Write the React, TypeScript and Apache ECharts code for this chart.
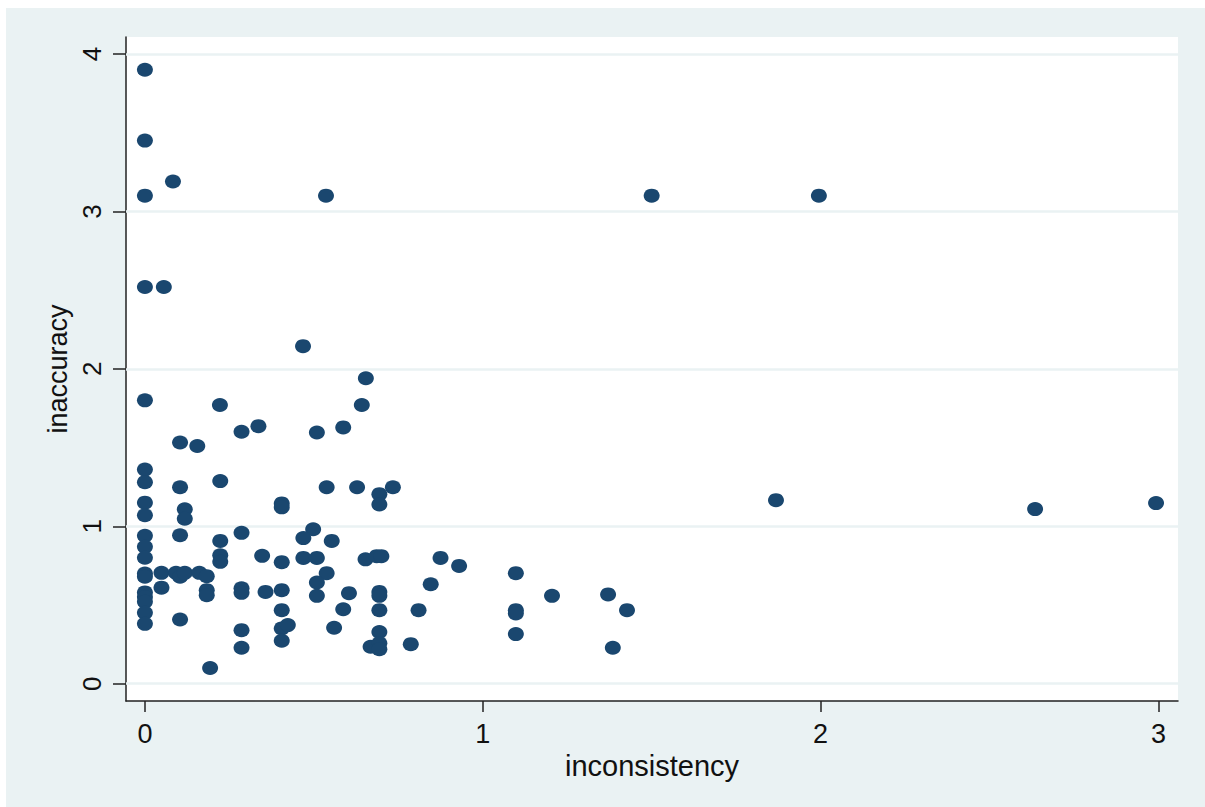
import React, { useEffect, useRef } from "react";
import * as echarts from "echarts";

// inconsistency (x) and inaccuracy (y) values
const inconsistency: number[] = [
  0, 0, 0, 0, 0, 0, 0, 0, 0, 0, 0, 0, 0, 0, 0, 0, 0, 0, 0,
  0.083, 0.056, 0.536, 1.5, 1.995, 0.468, 0.654, 0.222, 0.642, 0.104,
  0.155, 0.286, 0.336, 0.509, 0.587, 0.104, 0.223, 0.538, 0.628, 0.734,
  0.694, 0.694, 0.118, 0.118, 0.405, 0.405, 1.868, 2.635, 2.993, 0.498,
  0.469, 0.553, 0.286, 0.104, 0.223, 0.223, 0.223, 0.347, 0.405, 0.469,
  0.509, 0.653, 0.686, 0.7, 0.875, 0.93, 1.098, 0.049, 0.092, 0.104,
  0.118, 0.161, 0.183, 0.538, 0.509, 0.846, 0.049, 0.183, 0.183, 0.286,
  0.286, 0.357, 0.405, 0.604, 0.694, 0.694, 1.205, 1.371, 0.509, 0.587,
  0.405, 0.694, 0.81, 1.098, 1.098, 1.427, 0.104, 0.405, 0.423, 0.56,
  0.286, 0.694, 1.098, 0.405, 0.286, 0.668, 0.694, 0.694, 0.787, 1.385,
  0.193,
];
const inaccuracy: number[] = [
  3.9, 3.45, 3.1, 2.52, 1.8, 1.36, 1.28, 1.15, 1.07, 0.94, 0.87, 0.8, 0.7, 0.68, 0.58, 0.55, 0.52, 0.45, 0.38,
  3.19, 2.52, 3.1, 3.1, 3.1, 2.144, 1.94, 1.77, 1.77, 1.532,
  1.51, 1.6, 1.636, 1.596, 1.628, 1.248, 1.287, 1.248, 1.248, 1.248,
  1.204, 1.139, 1.108, 1.048, 1.145, 1.12, 1.166, 1.109, 1.147, 0.981,
  0.925, 0.907, 0.958, 0.943, 0.907, 0.816, 0.774, 0.812, 0.772, 0.799,
  0.799, 0.79, 0.81, 0.81, 0.799, 0.748, 0.702, 0.704, 0.704, 0.679,
  0.704, 0.704, 0.683, 0.702, 0.643, 0.632, 0.61, 0.594, 0.562, 0.606,
  0.577, 0.583, 0.594, 0.575, 0.583, 0.558, 0.558, 0.567, 0.558, 0.473,
  0.467, 0.467, 0.467, 0.467, 0.446, 0.467, 0.408, 0.351, 0.372, 0.355,
  0.34, 0.328, 0.315, 0.273, 0.228, 0.235, 0.257, 0.219, 0.251, 0.228,
  0.1,
];
const xTicks: number[] = [0, 1, 2, 3];
const yTicks: number[] = [0, 1, 2, 3, 4];
const xName = "inconsistency";
const yName = "inaccuracy";

export default function App() {
  const ref = useRef<HTMLDivElement>(null);
  useEffect(() => {
    if (!ref.current) return;
    const chart = echarts.init(ref.current, undefined, { renderer: "svg" });
    const pts = inconsistency.map((x, i) => [x, inaccuracy[i]]);
    const font = "'Liberation Sans', Arial, sans-serif";
    chart.setOption({
      animation: false,
      backgroundColor: "#ffffff",
      graphic: [
        {
          type: "rect",
          z: -10,
          silent: true,
          shape: { x: 6, y: 8, width: 1199, height: 799 },
          style: { fill: "#EAF2F3" },
        },
        {
          type: "rect",
          z: -9,
          silent: true,
          shape: { x: 126, y: 37, width: 1052, height: 664 },
          style: { fill: "#ffffff" },
        },
      ],
      grid: { left: 126, top: 37, right: 27, bottom: 106, containLabel: false },
      xAxis: {
        type: "value",
        min: -0.056,
        max: 3.058,
        name: xName,
        nameLocation: "middle",
        nameGap: 46,
        nameTextStyle: { fontSize: 29, color: "#111", fontFamily: font },
        axisLine: { show: true, onZero: false, lineStyle: { color: "#222", width: 1.5 } },
        axisTick: { show: true, length: 11, customValues: xTicks, lineStyle: { color: "#222", width: 1.5 } },
        axisLabel: { customValues: xTicks, fontSize: 27, margin: 19, color: "#111", fontFamily: font },
        splitLine: { show: false },
      },
      yAxis: {
        type: "value",
        min: -0.11,
        max: 4.108,
        name: yName,
        nameLocation: "middle",
        nameGap: 50,
        nameRotate: 90,
        nameTextStyle: { fontSize: 27, color: "#111", fontFamily: font },
        axisLine: { show: true, onZero: false, lineStyle: { color: "#222", width: 1.5 } },
        axisTick: { show: true, length: 13, customValues: yTicks, lineStyle: { color: "#222", width: 1.5 } },
        axisLabel: { customValues: yTicks, rotate: 90, fontSize: 26, margin: 21, color: "#111", fontFamily: font },
        splitLine: { show: false },
      },
      series: [
        {
          type: "line",
          data: [],
          z: 1,
          silent: true,
          markLine: {
            silent: true,
            symbol: ["none", "none"],
            label: { show: false },
            lineStyle: { color: "#EAF2F3", width: 2.5, type: "solid" },
            data: yTicks.map((v) => ({ yAxis: v })),
          },
        },
        {
          type: "scatter",
          z: 5,
          data: pts,
          symbol: "circle",
          symbolSize: [16, 14],
          itemStyle: { color: "#1A476F", opacity: 1 },
        },
      ],
    });
    return () => chart.dispose();
  }, []);
  return (
    <div
      ref={ref}
      style={{ position: "fixed", left: 0, top: 0, width: 1205, height: 807 }}
    />
  );
}
